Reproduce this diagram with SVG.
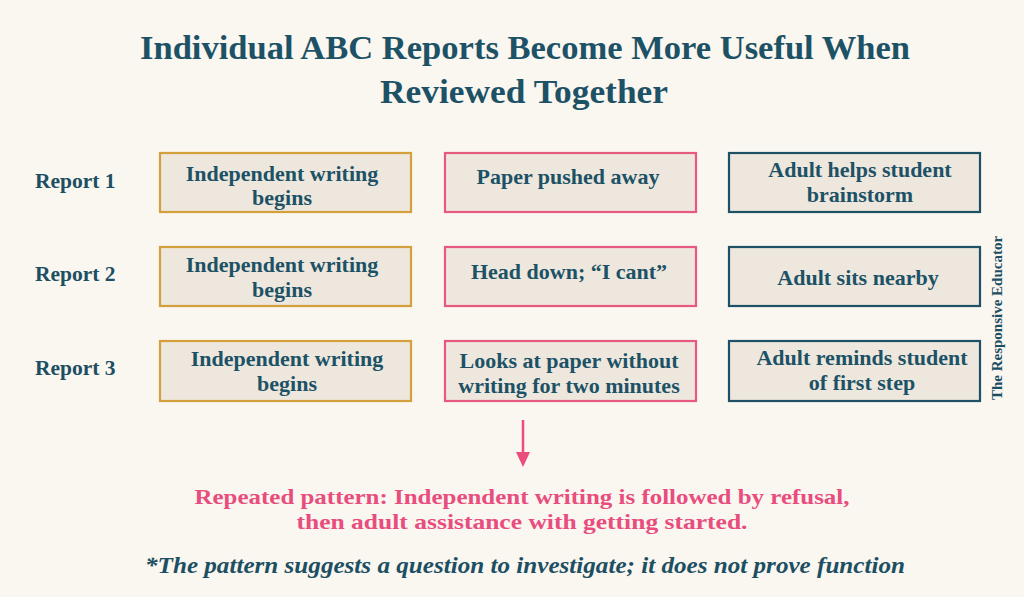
<svg xmlns="http://www.w3.org/2000/svg" width="1024" height="597" viewBox="0 0 1024 597">
<style>
.title{font-family:"Liberation Serif",serif;font-weight:bold;font-size:34px;fill:#1D5266;text-anchor:middle}
.lbl{font-family:"Liberation Serif",serif;font-weight:bold;font-size:21.5px;fill:#1D4F63}
.bt{font-family:"Liberation Serif",serif;font-weight:bold;font-size:22px;fill:#1D5266;text-anchor:middle}
.box{fill:#EDE7DD;stroke-width:2.2}
.a{stroke:#D4A03C}
.b{stroke:#E65A80}
.c{stroke:#1F5166}
.pat{font-family:"Liberation Serif",serif;font-weight:bold;font-size:21px;fill:#E84D7E;text-anchor:middle}
.foot{font-family:"Liberation Serif",serif;font-weight:bold;font-style:italic;font-size:24px;fill:#1D4F63;text-anchor:middle}
.wm{font-family:"Liberation Serif",serif;font-weight:bold;font-size:15px;fill:#1D4F63;text-anchor:middle}
</style>
<defs>
<marker id="ah" viewBox="0 0 15 14" refX="1" refY="7" markerWidth="15" markerHeight="14" orient="auto" markerUnits="userSpaceOnUse">
<path d="M0,0 L15,7 L0,14 z" fill="#E84D7E"/>
</marker>
</defs>
<rect width="1024" height="597" fill="#FAF6F0"/>
<g id="title">
<text class="title" x="525" y="59" textLength="770" lengthAdjust="spacingAndGlyphs">Individual ABC Reports Become More Useful When</text>
<text class="title" x="524" y="103" textLength="288" lengthAdjust="spacingAndGlyphs">Reviewed Together</text>
</g>
<g id="labels">
<text class="lbl" x="35" y="188">Report 1</text>
<text class="lbl" x="35" y="281">Report 2</text>
<text class="lbl" x="35" y="375">Report 3</text>
</g>
<g id="r1a"><rect class="box a" x="160" y="153" width="251" height="59"/><text class="bt" x="282" y="181">Independent writing</text><text class="bt" x="282" y="205">begins</text></g>
<g id="r1b"><rect class="box b" x="445" y="153" width="251" height="59"/><text class="bt" x="568" y="184">Paper pushed away</text></g>
<g id="r1c"><rect class="box c" x="729" y="153" width="251" height="59"/><text class="bt" x="860" y="177">Adult helps student</text><text class="bt" x="860" y="202">brainstorm</text></g>
<g id="r2a"><rect class="box a" x="160" y="247" width="251" height="59"/><text class="bt" x="282" y="272">Independent writing</text><text class="bt" x="282" y="297">begins</text></g>
<g id="r2b"><rect class="box b" x="445" y="247" width="251" height="59"/><text class="bt" x="569" y="279">Head down; “I cant”</text></g>
<g id="r2c"><rect class="box c" x="729" y="247" width="251" height="59"/><text class="bt" x="858" y="285">Adult sits nearby</text></g>
<g id="r3a"><rect class="box a" x="160" y="341" width="251" height="60"/><text class="bt" x="287" y="366">Independent writing</text><text class="bt" x="287" y="391">begins</text></g>
<g id="r3b"><rect class="box b" x="445" y="341" width="251" height="60"/><text class="bt" x="569" y="368">Looks at paper without</text><text class="bt" x="569" y="393">writing for two minutes</text></g>
<g id="r3c"><rect class="box c" x="729" y="341" width="251" height="60"/><text class="bt" x="862" y="365">Adult reminds student</text><text class="bt" x="862" y="390">of first step</text></g>
<g id="connectors">
<line x1="523" y1="420" x2="523" y2="453" stroke="#E84D7E" stroke-width="2.5" marker-end="url(#ah)"/>
</g>
<g id="pattern">
<text class="pat" x="522" y="504" textLength="655" lengthAdjust="spacingAndGlyphs">Repeated pattern: Independent writing is followed by refusal,</text>
<text class="pat" x="522" y="529" textLength="451" lengthAdjust="spacingAndGlyphs">then adult assistance with getting started.</text>
</g>
<g id="footer">
<text class="foot" x="525" y="573" textLength="760" lengthAdjust="spacingAndGlyphs">*The pattern suggests a question to investigate; it does not prove function</text>
</g>
<g id="watermark">
<text class="wm" transform="translate(1002,318) rotate(-90)">The Responsive Educator</text>
</g>
</svg>
